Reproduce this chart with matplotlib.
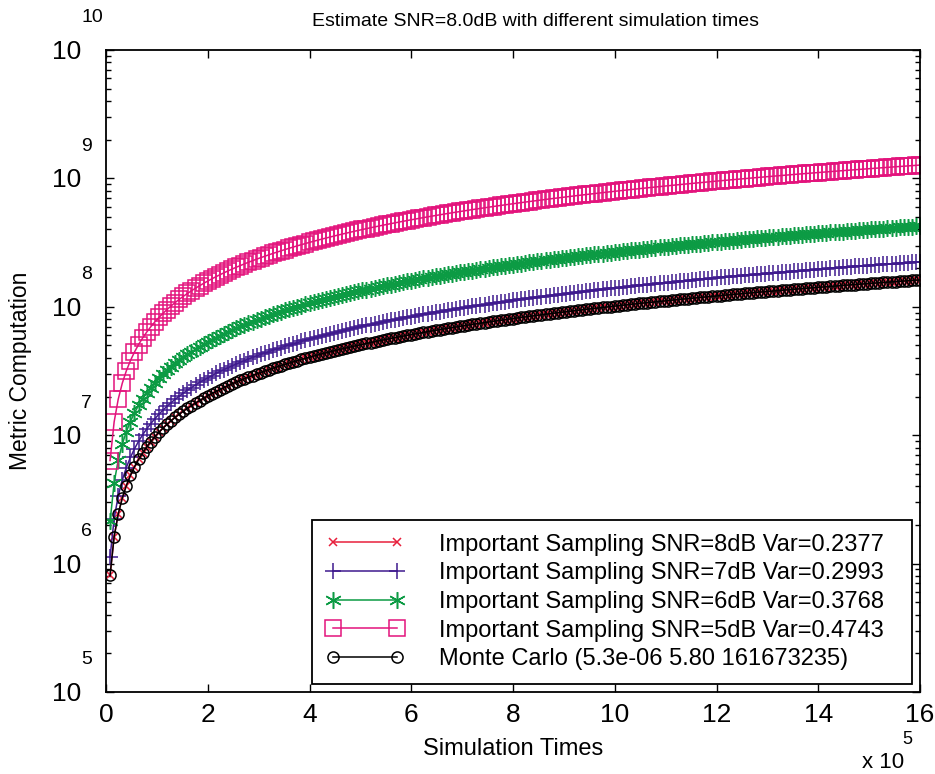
import matplotlib
matplotlib.use("Agg")
import matplotlib.pyplot as plt
from matplotlib.transforms import offset_copy

# simulation times (in thousands)
sim_times_k = [
    8, 16, 24, 32, 40, 48, 56, 64, 72, 80,
    88, 96, 104, 112, 120, 128, 136, 144, 152, 160,
    168, 176, 184, 192, 200, 208, 216, 224, 232, 240,
    248, 256, 264, 272, 280, 288, 296, 304, 312, 320,
    328, 336, 344, 352, 360, 368, 376, 384, 392, 400,
    408, 416, 424, 432, 440, 448, 456, 464, 472, 480,
    488, 496, 504, 512, 520, 528, 536, 544, 552, 560,
    568, 576, 584, 592, 600, 608, 616, 624, 632, 640,
    648, 656, 664, 672, 680, 688, 696, 704, 712, 720,
    728, 736, 744, 752, 760, 768, 776, 784, 792, 800,
    808, 816, 824, 832, 840, 848, 856, 864, 872, 880,
    888, 896, 904, 912, 920, 928, 936, 944, 952, 960,
    968, 976, 984, 992, 1000, 1008, 1016, 1024, 1032, 1040,
    1048, 1056, 1064, 1072, 1080, 1088, 1096, 1104, 1112, 1120,
    1128, 1136, 1144, 1152, 1160, 1168, 1176, 1184, 1192, 1200,
    1208, 1216, 1224, 1232, 1240, 1248, 1256, 1264, 1272, 1280,
    1288, 1296, 1304, 1312, 1320, 1328, 1336, 1344, 1352, 1360,
    1368, 1376, 1384, 1392, 1400, 1408, 1416, 1424, 1432, 1440,
    1448, 1456, 1464, 1472, 1480, 1488, 1496, 1504, 1512, 1520,
    1528, 1536, 1544, 1552, 1560, 1568, 1576, 1584, 1592, 1600,
]

# metric computation (in units of 1e4)
monte_carlo = [
    81, 162, 243, 324, 405, 486, 567, 648, 729, 810,
    891, 972, 1053, 1134, 1215, 1296, 1377, 1458, 1539, 1620,
    1701, 1782, 1863, 1944, 2025, 2106, 2187, 2268, 2349, 2430,
    2511, 2592, 2673, 2754, 2835, 2916, 2997, 3078, 3159, 3240,
    3321, 3402, 3483, 3564, 3645, 3726, 3807, 3888, 3969, 4050,
    4131, 4212, 4293, 4374, 4455, 4536, 4617, 4698, 4779, 4860,
    4941, 5022, 5103, 5184, 5265, 5346, 5427, 5508, 5589, 5670,
    5751, 5832, 5913, 5994, 6075, 6156, 6237, 6318, 6399, 6480,
    6561, 6642, 6723, 6804, 6885, 6966, 7047, 7128, 7209, 7290,
    7371, 7452, 7533, 7614, 7695, 7776, 7857, 7938, 8019, 8100,
    8181, 8262, 8343, 8424, 8505, 8586, 8667, 8748, 8829, 8910,
    8991, 9072, 9153, 9234, 9315, 9396, 9477, 9558, 9639, 9720,
    9801, 9882, 9963, 10044, 10125, 10206, 10287, 10368, 10449, 10530,
    10611, 10692, 10773, 10854, 10935, 11016, 11097, 11178, 11259, 11340,
    11421, 11502, 11583, 11664, 11745, 11826, 11907, 11988, 12069, 12150,
    12231, 12312, 12393, 12474, 12555, 12636, 12717, 12798, 12879, 12960,
    13041, 13122, 13203, 13284, 13365, 13446, 13527, 13608, 13689, 13770,
    13851, 13932, 14013, 14094, 14175, 14256, 14337, 14418, 14499, 14580,
    14661, 14742, 14823, 14904, 14985, 15066, 15147, 15228, 15309, 15390,
    15471, 15552, 15633, 15714, 15795, 15876, 15957, 16038, 16119, 16167,
]

# the 8dB markers sit right on top of the Monte Carlo circles
is_8db = list(monte_carlo)

is_7db = [
    112, 224, 336, 448, 560, 672, 784, 896, 1008, 1120,
    1232, 1344, 1456, 1568, 1680, 1792, 1904, 2016, 2128, 2240,
    2352, 2464, 2576, 2688, 2800, 2912, 3024, 3136, 3248, 3360,
    3472, 3584, 3696, 3808, 3920, 4032, 4144, 4256, 4368, 4480,
    4592, 4704, 4816, 4928, 5040, 5152, 5264, 5376, 5488, 5600,
    5712, 5824, 5936, 6048, 6160, 6272, 6384, 6496, 6608, 6720,
    6832, 6944, 7056, 7168, 7280, 7392, 7504, 7616, 7728, 7840,
    7952, 8064, 8176, 8288, 8400, 8512, 8624, 8736, 8848, 8960,
    9072, 9184, 9296, 9408, 9520, 9632, 9744, 9856, 9968, 10080,
    10192, 10304, 10416, 10528, 10640, 10752, 10864, 10976, 11088, 11200,
    11312, 11424, 11536, 11648, 11760, 11872, 11984, 12096, 12208, 12320,
    12432, 12544, 12656, 12768, 12880, 12992, 13104, 13216, 13328, 13440,
    13552, 13664, 13776, 13888, 14000, 14112, 14224, 14336, 14448, 14560,
    14672, 14784, 14896, 15008, 15120, 15232, 15344, 15456, 15568, 15680,
    15792, 15904, 16016, 16128, 16240, 16352, 16464, 16576, 16688, 16800,
    16912, 17024, 17136, 17248, 17360, 17472, 17584, 17696, 17808, 17920,
    18032, 18144, 18256, 18368, 18480, 18592, 18704, 18816, 18928, 19040,
    19152, 19264, 19376, 19488, 19600, 19712, 19824, 19936, 20048, 20160,
    20272, 20384, 20496, 20608, 20720, 20832, 20944, 21056, 21168, 21280,
    21392, 21504, 21616, 21728, 21840, 21952, 22064, 22176, 22288, 22400,
]

is_6db = [
    213, 426, 639, 852, 1065, 1278, 1491, 1704, 1917, 2130,
    2343, 2556, 2769, 2982, 3195, 3408, 3621, 3834, 4047, 4260,
    4473, 4686, 4899, 5112, 5325, 5538, 5751, 5964, 6177, 6390,
    6603, 6816, 7029, 7242, 7455, 7668, 7881, 8094, 8307, 8520,
    8733, 8946, 9159, 9372, 9585, 9798, 10011, 10224, 10437, 10650,
    10863, 11076, 11289, 11502, 11715, 11928, 12141, 12354, 12567, 12780,
    12993, 13206, 13419, 13632, 13845, 14058, 14271, 14484, 14697, 14910,
    15123, 15336, 15549, 15762, 15975, 16188, 16401, 16614, 16827, 17040,
    17253, 17466, 17679, 17892, 18105, 18318, 18531, 18744, 18957, 19170,
    19383, 19596, 19809, 20022, 20235, 20448, 20661, 20874, 21087, 21300,
    21513, 21726, 21939, 22152, 22365, 22578, 22791, 23004, 23217, 23430,
    23643, 23856, 24069, 24282, 24495, 24708, 24921, 25134, 25347, 25560,
    25773, 25986, 26199, 26412, 26625, 26838, 27051, 27264, 27477, 27690,
    27903, 28116, 28329, 28542, 28755, 28968, 29181, 29394, 29607, 29820,
    30033, 30246, 30459, 30672, 30885, 31098, 31311, 31524, 31737, 31950,
    32163, 32376, 32589, 32802, 33015, 33228, 33441, 33654, 33867, 34080,
    34293, 34506, 34719, 34932, 35145, 35358, 35571, 35784, 35997, 36210,
    36423, 36636, 36849, 37062, 37275, 37488, 37701, 37914, 38127, 38340,
    38553, 38766, 38979, 39192, 39405, 39618, 39831, 40044, 40257, 40470,
    40683, 40896, 41109, 41322, 41535, 41748, 41961, 42174, 42387, 42600,
]

is_5db = [
    635, 1270, 1905, 2540, 3175, 3810, 4445, 5080, 5715, 6350,
    6985, 7620, 8255, 8890, 9525, 10160, 10795, 11430, 12065, 12700,
    13335, 13970, 14605, 15240, 15875, 16510, 17145, 17780, 18415, 19050,
    19685, 20320, 20955, 21590, 22225, 22860, 23495, 24130, 24765, 25400,
    26035, 26670, 27305, 27940, 28575, 29210, 29845, 30480, 31115, 31750,
    32385, 33020, 33655, 34290, 34925, 35560, 36195, 36830, 37465, 38100,
    38735, 39370, 40005, 40640, 41275, 41910, 42545, 43180, 43815, 44450,
    45085, 45720, 46355, 46990, 47625, 48260, 48895, 49530, 50165, 50800,
    51435, 52070, 52705, 53340, 53975, 54610, 55245, 55880, 56515, 57150,
    57785, 58420, 59055, 59690, 60325, 60960, 61595, 62230, 62865, 63500,
    64135, 64770, 65405, 66040, 66675, 67310, 67945, 68580, 69215, 69850,
    70485, 71120, 71755, 72390, 73025, 73660, 74295, 74930, 75565, 76200,
    76835, 77470, 78105, 78740, 79375, 80010, 80645, 81280, 81915, 82550,
    83185, 83820, 84455, 85090, 85725, 86360, 86995, 87630, 88265, 88900,
    89535, 90170, 90805, 91440, 92075, 92710, 93345, 93980, 94615, 95250,
    95885, 96520, 97155, 97790, 98425, 99060, 99695, 100330, 100965, 101600,
    102235, 102870, 103505, 104140, 104775, 105410, 106045, 106680, 107315, 107950,
    108585, 109220, 109855, 110490, 111125, 111760, 112395, 113030, 113665, 114300,
    114935, 115570, 116205, 116840, 117475, 118110, 118745, 119380, 120015, 120650,
    121285, 121920, 122555, 123190, 123825, 124460, 125095, 125730, 126365, 127000,
]

labels = [
    "Important Sampling SNR=8dB Var=0.2377",
    "Important Sampling SNR=7dB Var=0.2993",
    "Important Sampling SNR=6dB Var=0.3768",
    "Important Sampling SNR=5dB Var=0.4743",
    "Monte Carlo (5.3e-06 5.80 161673235)",
]

plt.rcParams["font.family"] = ["Liberation Sans", "DejaVu Sans"]

fig = plt.figure(figsize=(9.35, 7.74), dpi=100)
ax = fig.add_axes([106 / 935, 82 / 774, 814 / 935, 642 / 774])

x = [t * 1e3 / 1e5 for t in sim_times_k]   # axis shown in units of 1e5


def scale(vals):
    return [v * 1e4 for v in vals]


series = [
    (is_8db, "#e8203c", "x", 6.0),
    (is_7db, "#3f1a8e", "+", 12.0),
    (is_6db, "#0c9b44", (6, 2, 0), 12.0),
    (is_5db, "#e3137c", "s", 11.5),
    (monte_carlo, "black", "o", 8.0),
]
for (vals, col, mk, ms), lab in zip(series, labels):
    # trailing blanks widen the legend box on the right like the original
    ax.plot(x, scale(vals), color=col, marker=mk, markersize=ms,
            markerfacecolor="none", markeredgecolor=col, markeredgewidth=1.1,
            linewidth=1.1, label=lab + "  ")

ax.set_yscale("log")
ax.set_xlim(0, 16)
ax.set_ylim(1e5, 1e10)
ax.set_xticks(range(0, 17, 2))
ax.set_xticklabels([str(v) for v in range(0, 17, 2)], fontsize=19)

ax.tick_params(which="both", direction="in", top=True, right=True, width=1.0)
ax.tick_params(which="major", length=6)
ax.tick_params(which="minor", length=3.5)
ax.tick_params(axis="x", pad=8)
ax.set_yticklabels([], minor=False)
ax.set_yticklabels([], minor=True)
for s in ax.spines.values():
    s.set_linewidth(1.3)

# MATLAB-style decade labels: "10" with a raised exponent
ytr = ax.get_yaxis_transform()
for e in range(5, 11):
    t1 = offset_copy(ytr, fig=fig, x=0, y=-2, units="dots")
    ax.text(-0.031, 10.0 ** e, "10", transform=t1, ha="right", va="center",
            fontsize=19)
    t2 = offset_copy(ytr, fig=fig, x=-3, y=32, units="dots")
    ax.text(-0.027, 10.0 ** e, str(e), transform=t2, ha="left", va="center",
            fontsize=14)

fig.text(862 / 935, 1 - 762 / 774, "x 10", ha="left", va="center", fontsize=16)
fig.text(902 / 935, 1 - 739 / 774, "5", ha="left", va="center", fontsize=13)

fig.text(536 / 935, 1 - 22 / 774,
         "Estimate SNR=8.0dB with different simulation times",
         ha="center", va="center", fontsize=14)
ax.set_xlabel("Simulation Times", fontsize=17, labelpad=8)
ax.set_ylabel("Metric Computation", fontsize=16.5, labelpad=50)

leg = ax.legend(loc="lower right", bbox_to_anchor=(0.990, 0.012),
                borderaxespad=0, fancybox=False, framealpha=1,
                edgecolor="black", fontsize=17, handlelength=3.3,
                handletextpad=1.5, labelspacing=0.28, borderpad=0.6,
                numpoints=2)
leg.get_frame().set_linewidth(1.3)

fig.savefig("out.png", dpi=100)
